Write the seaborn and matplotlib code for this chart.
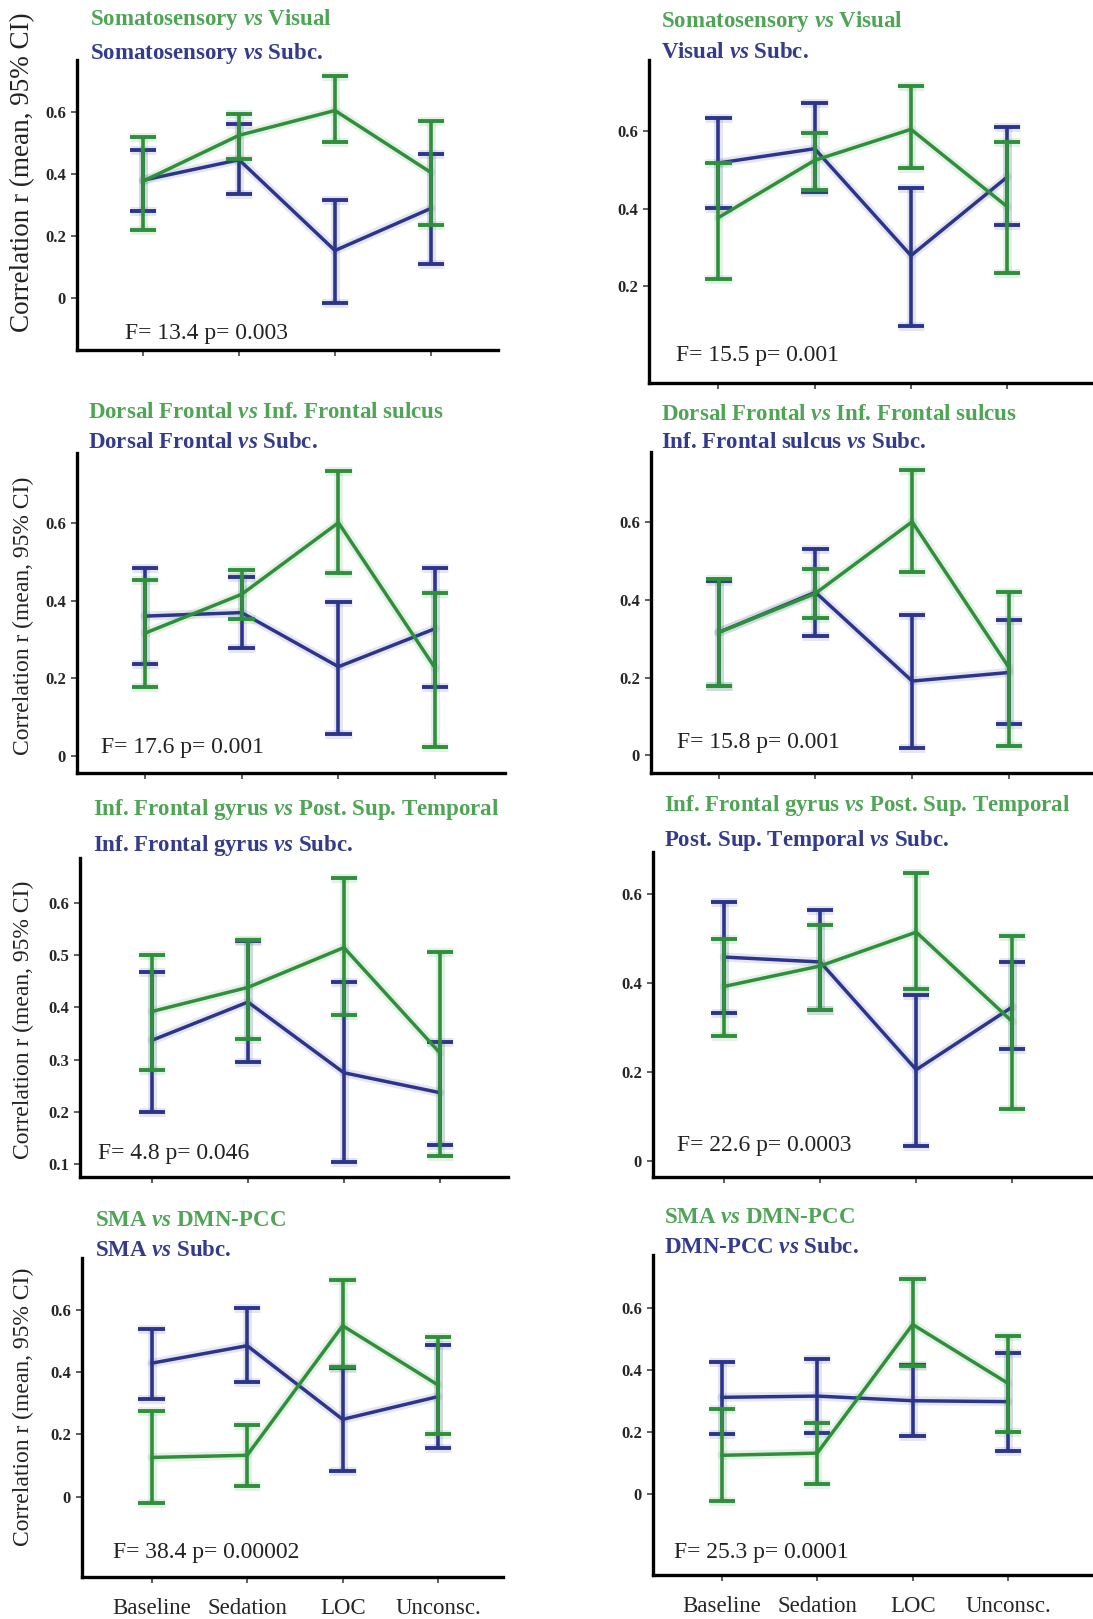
import matplotlib
matplotlib.use('Agg')
import matplotlib.pyplot as plt
import matplotlib.patheffects as pe
import seaborn as sns

# conditions on the x axis
conditions = ['Baseline', 'Sedation', 'LOC', 'Unconsc.']

# mean r and 95% CI bounds
soma_vis_mean = [0.377, 0.525, 0.605, 0.405]
soma_vis_lo = [0.219, 0.448, 0.504, 0.234]
soma_vis_hi = [0.518, 0.595, 0.716, 0.572]

soma_subc_mean = [0.380, 0.446, 0.153, 0.289]
soma_subc_lo = [0.281, 0.337, -0.016, 0.110]
soma_subc_hi = [0.478, 0.561, 0.316, 0.465]

vis_subc_mean = [0.518, 0.555, 0.279, 0.482]
vis_subc_lo = [0.403, 0.443, 0.096, 0.357]
vis_subc_hi = [0.633, 0.672, 0.454, 0.611]

df_ifs_mean = [0.316, 0.416, 0.600, 0.226]
df_ifs_lo = [0.178, 0.353, 0.470, 0.024]
df_ifs_hi = [0.453, 0.479, 0.733, 0.420]

df_subc_mean = [0.360, 0.369, 0.230, 0.328]
df_subc_lo = [0.238, 0.277, 0.058, 0.178]
df_subc_hi = [0.483, 0.461, 0.397, 0.483]

ifs_subc_mean = [0.316, 0.419, 0.191, 0.213]
ifs_subc_lo = [0.178, 0.307, 0.020, 0.080]
ifs_subc_hi = [0.449, 0.530, 0.360, 0.348]

ifg_pst_mean = [0.392, 0.438, 0.514, 0.313]
ifg_pst_lo = [0.280, 0.339, 0.386, 0.117]
ifg_pst_hi = [0.499, 0.529, 0.646, 0.505]

ifg_subc_mean = [0.337, 0.410, 0.275, 0.237]
ifg_subc_lo = [0.200, 0.296, 0.105, 0.138]
ifg_subc_hi = [0.467, 0.527, 0.448, 0.333]

pst_subc_mean = [0.458, 0.447, 0.205, 0.346]
pst_subc_lo = [0.333, 0.338, 0.034, 0.252]
pst_subc_hi = [0.582, 0.563, 0.372, 0.447]

sma_dmn_mean = [0.126, 0.133, 0.548, 0.358]
sma_dmn_lo = [-0.021, 0.035, 0.415, 0.202]
sma_dmn_hi = [0.276, 0.231, 0.695, 0.512]

sma_subc_mean = [0.428, 0.484, 0.248, 0.321]
sma_subc_lo = [0.313, 0.367, 0.082, 0.155]
sma_subc_hi = [0.538, 0.604, 0.414, 0.487]

dmn_subc_mean = [0.313, 0.317, 0.302, 0.299]
dmn_subc_lo = [0.195, 0.199, 0.188, 0.141]
dmn_subc_hi = [0.428, 0.435, 0.417, 0.455]

green_titles = [r'Somatosensory $\it{vs}$ Visual', r'Somatosensory $\it{vs}$ Visual',
                r'Dorsal Frontal $\it{vs}$ Inf. Frontal sulcus', r'Dorsal Frontal $\it{vs}$ Inf. Frontal sulcus',
                r'Inf. Frontal gyrus $\it{vs}$ Post. Sup. Temporal', r'Inf. Frontal gyrus $\it{vs}$ Post. Sup. Temporal',
                r'SMA $\it{vs}$ DMN-PCC', r'SMA $\it{vs}$ DMN-PCC']
blue_titles = [r'Somatosensory $\it{vs}$ Subc.', r'Visual $\it{vs}$ Subc.',
               r'Dorsal Frontal $\it{vs}$ Subc.', r'Inf. Frontal sulcus $\it{vs}$ Subc.',
               r'Inf. Frontal gyrus $\it{vs}$ Subc.', r'Post. Sup. Temporal $\it{vs}$ Subc.',
               r'SMA $\it{vs}$ Subc.', r'DMN-PCC $\it{vs}$ Subc.']
stats_text = ['F= 13.4 p= 0.003', 'F= 15.5 p= 0.001', 'F= 17.6 p= 0.001', 'F= 15.8 p= 0.001',
              'F= 4.8 p= 0.046', 'F= 22.6 p= 0.0003', 'F= 38.4 p= 0.00002', 'F= 25.3 p= 0.0001']
y_ticks = [[0, 0.2, 0.4, 0.6], [0.2, 0.4, 0.6], [0, 0.2, 0.4, 0.6], [0, 0.2, 0.4, 0.6],
           [0.1, 0.2, 0.3, 0.4, 0.5, 0.6], [0, 0.2, 0.4, 0.6], [0, 0.2, 0.4, 0.6], [0, 0.2, 0.4, 0.6]]

green_series = [(soma_vis_mean, soma_vis_lo, soma_vis_hi), (soma_vis_mean, soma_vis_lo, soma_vis_hi),
                (df_ifs_mean, df_ifs_lo, df_ifs_hi), (df_ifs_mean, df_ifs_lo, df_ifs_hi),
                (ifg_pst_mean, ifg_pst_lo, ifg_pst_hi), (ifg_pst_mean, ifg_pst_lo, ifg_pst_hi),
                (sma_dmn_mean, sma_dmn_lo, sma_dmn_hi), (sma_dmn_mean, sma_dmn_lo, sma_dmn_hi)]
blue_series = [(soma_subc_mean, soma_subc_lo, soma_subc_hi), (vis_subc_mean, vis_subc_lo, vis_subc_hi),
               (df_subc_mean, df_subc_lo, df_subc_hi), (ifs_subc_mean, ifs_subc_lo, ifs_subc_hi),
               (ifg_subc_mean, ifg_subc_lo, ifg_subc_hi), (pst_subc_mean, pst_subc_lo, pst_subc_hi),
               (sma_subc_mean, sma_subc_lo, sma_subc_hi), (dmn_subc_mean, dmn_subc_lo, dmn_subc_hi)]

# layout in pixels: axes box (left, top, right, bottom), xlim, ylim, title x/y, stats pos
W, H = 1093, 1619
boxes = [(77, 60, 498, 350), (649, 60, 1093, 383),
         (77, 453, 505, 773), (651, 452, 1093, 773),
         (80, 858, 508, 1177), (653, 852, 1093, 1177),
         (82, 1258, 503, 1577), (653, 1255, 1093, 1575)]
xlims = [(-0.69, 3.70), (-0.72, 3.89), (-0.70, 3.72), (-0.70, 3.87),
         (-0.75, 3.71), (-0.74, 3.84), (-0.73, 3.68), (-0.72, 3.89)]
ylims = [(-0.168, 0.768), (-0.05, 0.784), (-0.043, 0.779), (-0.045, 0.779),
         (0.076, 0.685), (-0.036, 0.694), (-0.257, 0.765), (-0.26, 0.772)]
title_pos = [(90, 20, 53), (661, 21, 53), (88, 413, 442), (661, 415, 442),
             (93, 810, 845), (664, 805, 840), (95, 1220, 1250), (664, 1217, 1247)]
stats_pos = [(125, 333), (676, 355), (101, 747), (677, 742),
             (98, 1153), (677, 1145), (113, 1552), (674, 1552)]
ylabel_pos = [(23, 172, 19.5), (23, 616, 17), (23, 1020, 17), (23, 1407, 17)]

GREEN = '#2f8f3c'
BLUE = '#2c358c'
GREEN_T = '#4fa455'
BLUE_T = '#343b8a'

sns.set_style('ticks')
plt.rcParams['font.family'] = ['Liberation Serif', 'DejaVu Serif']
plt.rcParams['mathtext.fontset'] = 'custom'
plt.rcParams['mathtext.rm'] = 'Liberation Serif:bold'
plt.rcParams['mathtext.bf'] = 'Liberation Serif:bold'
plt.rcParams['mathtext.it'] = 'Liberation Serif:italic:bold'

fig = plt.figure(figsize=(W / 100, H / 100), dpi=100)
fig.patch.set_facecolor('white')

for i in range(8):
    l, t, r, b = boxes[i]
    ax = fig.add_axes([l / W, 1 - b / H, (r - l) / W, (b - t) / H])
    ax.set_facecolor('white')

    for (mean, lo, hi), col in [(blue_series[i], BLUE), (green_series[i], GREEN)]:
        glow = [pe.Stroke(linewidth=6.5, foreground=col, alpha=0.12), pe.Normal()]
        err = [[m - a for m, a in zip(mean, lo)], [c - m for m, c in zip(mean, hi)]]
        sns.lineplot(x=conditions, y=mean, sort=False, color=col, linewidth=2.5, ax=ax)
        ax.lines[-1].set_path_effects(glow)
        eb = ax.errorbar(conditions, mean, yerr=err, fmt='none', ecolor=col,
                         elinewidth=2.6, capsize=9.5, capthick=2.8)
        for art in list(eb.lines[1]) + list(eb.lines[2]):
            art.set_path_effects(glow)

    ax.set_xlim(*xlims[i])
    ax.set_ylim(*ylims[i])
    ax.set_yticks(y_ticks[i])
    ax.set_yticklabels(['0' if v == 0 else f'{v:.1f}' for v in y_ticks[i]],
                       fontsize=12, fontweight='bold')
    ax.set_xlabel('')
    ax.set_ylabel('')
    sns.despine(ax=ax)
    for s in ['left', 'bottom']:
        ax.spines[s].set_linewidth(2.4)
        ax.spines[s].set_color('black')
    ax.tick_params(axis='both', direction='out', length=4, width=1.2, color='#444444', pad=4)
    if i >= 6:
        ax.tick_params(axis='x', labelsize=16.5, pad=11)
    else:
        ax.tick_params(axis='x', labelbottom=False)

    tx, ty1, ty2 = title_pos[i]
    fig.text(tx / W, 1 - ty1 / H, green_titles[i], color=GREEN_T, fontsize=16.5,
             fontweight='bold', va='center', ha='left')
    fig.text(tx / W, 1 - ty2 / H, blue_titles[i], color=BLUE_T, fontsize=16.5,
             fontweight='bold', va='center', ha='left')
    sx, sy = stats_pos[i]
    fig.text(sx / W, 1 - sy / H, stats_text[i], fontsize=17, va='center', ha='left', color='#222222')

for x, y, fs in ylabel_pos:
    fig.text(x / W, 1 - y / H, 'Correlation r (mean, 95% CI)', rotation=90, fontsize=fs,
             va='center', ha='center', color='#222222')

fig.savefig('out.png', dpi=100, facecolor='white')
